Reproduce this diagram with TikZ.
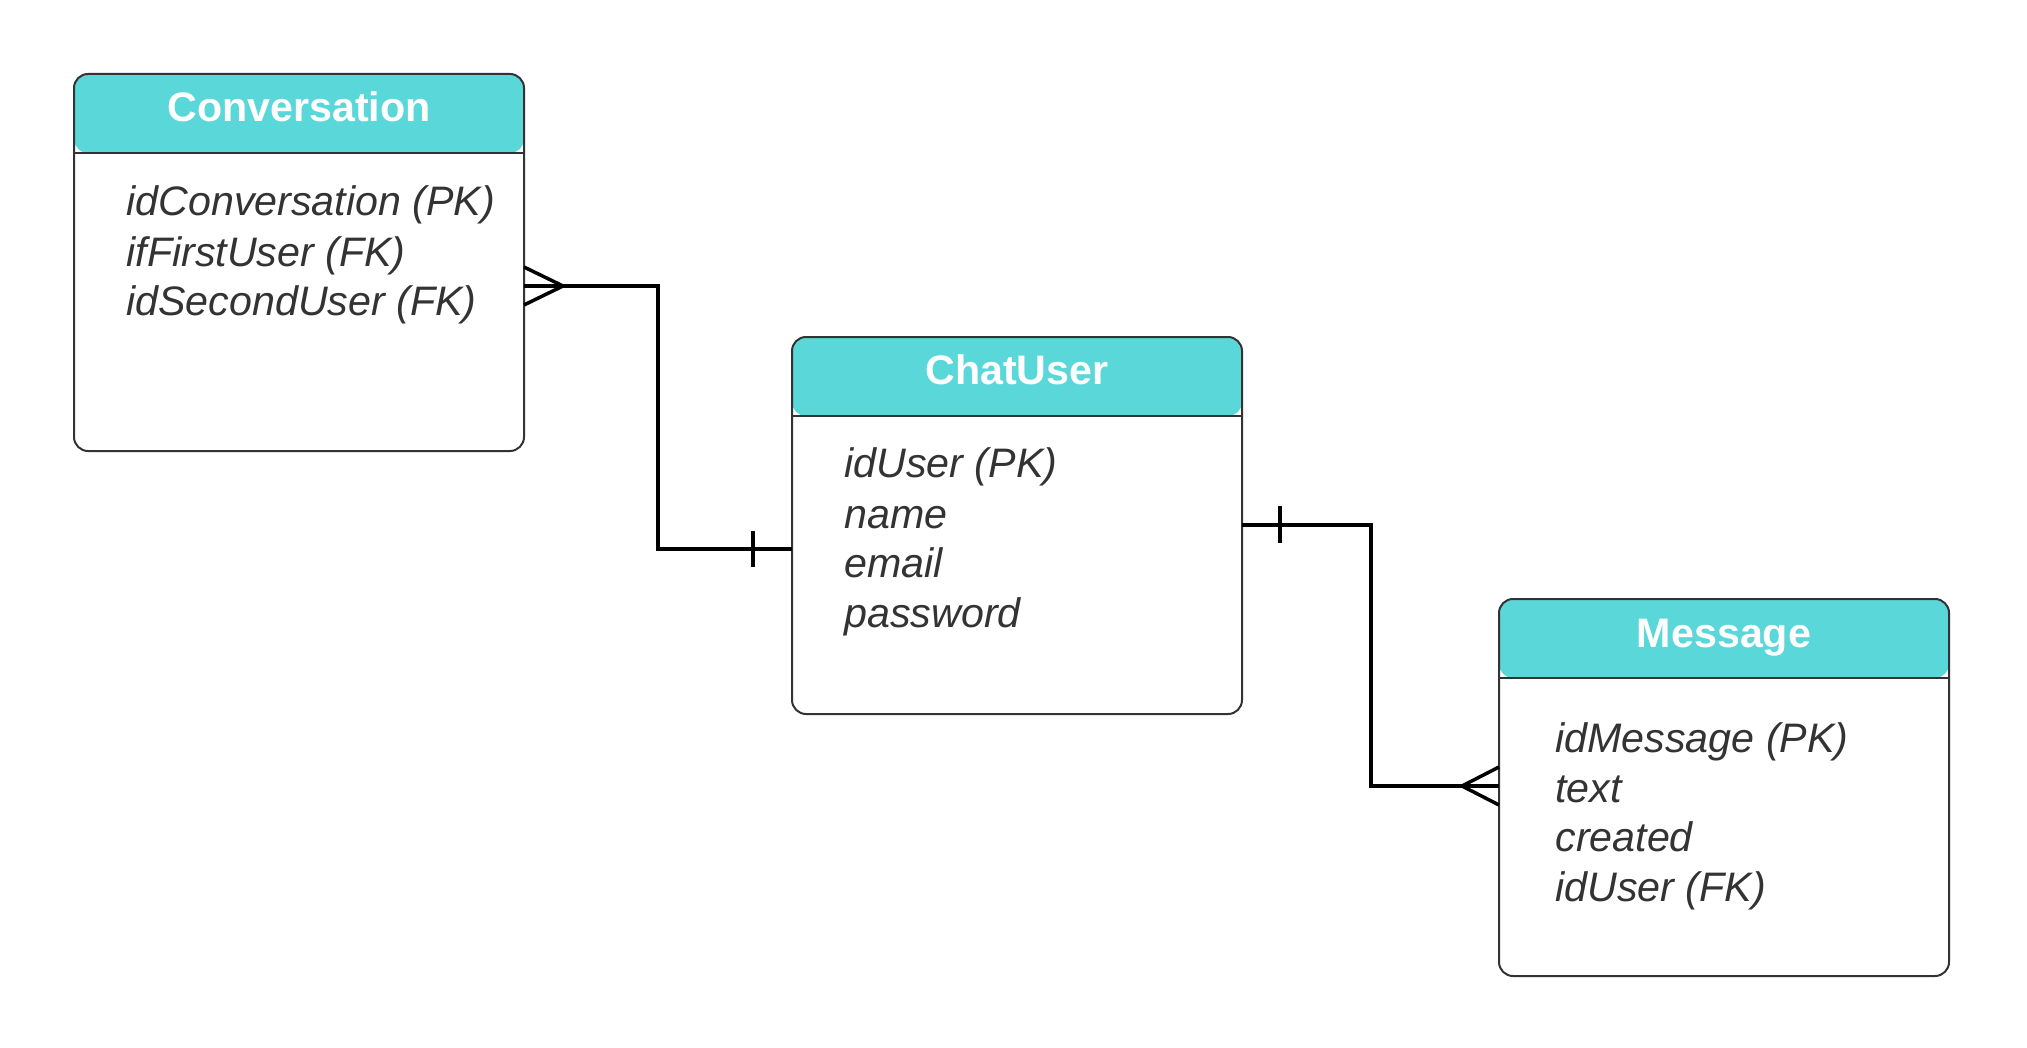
\documentclass[tikz,border=0pt]{standalone}
\usepackage{fontspec}
\setmainfont{Liberation Sans}
\usetikzlibrary{calc}
\definecolor{headc}{HTML}{5AD8D9}
\definecolor{edgec}{HTML}{333333}
\definecolor{txtc}{HTML}{333333}
\begin{document}
\begin{tikzpicture}[x=0.5pt,y=-0.5pt,
  entity/.style={draw=edgec, line width=1pt, fill=white, rounded corners=7pt,
    minimum width=225pt, minimum height=188.5pt, anchor=north west,
    inner sep=0pt, outer sep=0pt,
    path picture={
      \fill[headc] (path picture bounding box.north west) rectangle
        ($(path picture bounding box.north east)+(0,79)$);
      \draw[edgec, line width=1.1pt] ($(path picture bounding box.north west)+(0,79)$) --
        ($(path picture bounding box.north east)+(0,79)$);
    }},
  title/.style={anchor=base, text=white, font=\bfseries\fontsize{20.6}{24}\selectfont, inner sep=0pt},
  attr/.style={anchor=base west, text=txtc, font=\itshape\fontsize{20.6}{24}\selectfont, inner sep=0pt},
  rel/.style={line width=1.75pt, black},
]
\useasboundingbox (0,0) rectangle (2027,1048);

% entities
\node[entity] (conv) at (74,74) {};
\node[entity] (chat) at (792,337) {};
\node[entity] (msg) at (1499,599) {};

% titles
\node[title] (convt) at (299,122) {Conversation};
\node[title] (chatt) at (1017,384) {ChatUser};
\node[title] (msgt) at (1724,647) {Message};

% attributes
\node[attr] (conva1) at (126,216) {idConversation (PK)};
\node[attr] (conva2) at (126,266) {ifFirstUser (FK)};
\node[attr] (conva3) at (126,315) {idSecondUser (FK)};

\node[attr] (chata1) at (844,477) {idUser (PK)};
\node[attr] (chata2) at (844,528) {name};
\node[attr] (chata3) at (844,577) {email};
\node[attr] (chata4) at (844,627) {password};

\node[attr] (msga1) at (1555,752) {idMessage (PK)};
\node[attr] (msga2) at (1555,802) {text};
\node[attr] (msga3) at (1555,851) {created};
\node[attr] (msga4) at (1555,901) {idUser (FK)};

% connector Conversation -- ChatUser
\draw[rel] ($(conv.north east)+(0,212)$) -- ++(134,0) |- ($(chat.north west)+(0,212)$);
\draw[rel] ($(conv.north east)+(0,193)$) -- ($(conv.north east)+(39,212)$) -- ($(conv.north east)+(0,231)$);
\draw[rel] ($(chat.north west)+(-39,194)$) -- ($(chat.north west)+(-39,230)$);

% connector ChatUser -- Message
\draw[rel] ($(chat.north east)+(0,188)$) -- ++(129,0) |- ($(msg.north west)+(0,187)$);
\draw[rel] ($(chat.north east)+(38,169)$) -- ($(chat.north east)+(38,206)$);
\draw[rel] ($(msg.north west)+(0,168)$) -- ($(msg.north west)+(-37,187)$) -- ($(msg.north west)+(0,206)$);
\end{tikzpicture}
\end{document}
